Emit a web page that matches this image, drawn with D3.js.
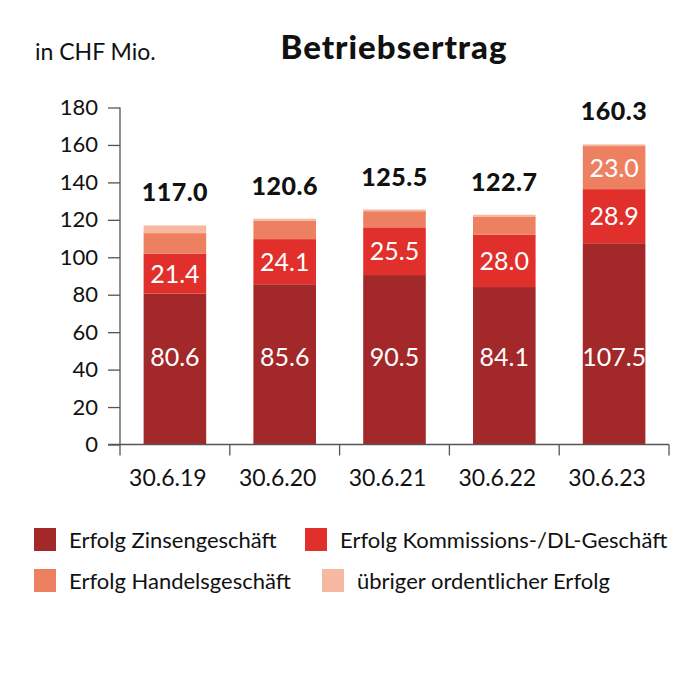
<!DOCTYPE html>
<html><head><meta charset="utf-8">
<script src="https://cdn.jsdelivr.net/npm/d3@7"></script>
<style>
body{margin:0;background:#fff;}
svg text{font-family:Lato,"Open Sans",sans-serif;}
</style></head>
<body><svg id="chart" width="700" height="683"></svg>
<script>
const categories = ["30.6.19","30.6.20","30.6.21","30.6.22","30.6.23"];
const zinsen = [80.6, 85.6, 90.5, 84.1, 107.5];
const kommission = [21.4, 24.1, 25.5, 28.0, 28.9];
const handel = [10.9, 9.9, 8.6, 9.7, 23.0];
const uebriger = [4.1, 1.0, 0.9, 0.9, 0.9];
const totals = [117.0, 120.6, 125.5, 122.7, 160.3];
const yTicks = [0,20,40,60,80,100,120,140,160,180];
const seriesNames = ["Erfolg Zinsengeschäft","Erfolg Kommissions-/DL-Geschäft","Erfolg Handelsgeschäft","übriger ordentlicher Erfolg"];
const colors = ["#a3282a","#e1302b","#ee8062","#f6b8a0"];
const showLabel = [[true,true,true,true,true],[true,true,true,true,true],[false,false,false,false,true],[false,false,false,false,false]];
const zinsLabelLevel = 47; // value level where the Zinsengeschäft labels sit

const svg = d3.select("#chart");
const x = d3.scaleBand().domain(categories).range([120, 669]).paddingInner(0.43).paddingOuter(0.215);
const y = d3.scaleLinear().domain([0,180]).range([444.5,107.5]);

const seriesData = [zinsen, kommission, handel, uebriger];
const rows = categories.map((c,i)=>{const o={cat:c}; seriesData.forEach((s,k)=>o["s"+k]=s[i]); return o;});
const stack = d3.stack().keys(["s0","s1","s2","s3"])(rows);

stack.forEach((layer,k)=>{
  svg.append("g").selectAll("rect").data(layer).join("rect")
    .attr("x", d=>x(d.data.cat)).attr("width", x.bandwidth())
    .attr("y", d=>y(d[1])).attr("height", d=>y(d[0])-y(d[1]))
    .attr("fill", colors[k]);
});
stack.forEach((layer,k)=>{
  svg.append("g").selectAll("text").data(layer.filter((d,i)=>showLabel[k][i])).join("text")
    .attr("x", d=>x(d.data.cat)+x.bandwidth()/2)
    .attr("y", d=> k===0 ? y(zinsLabelLevel) : (y(d[0])+y(d[1]))/2)
    .attr("dy","0.36em").attr("text-anchor","middle")
    .attr("fill","#fff").attr("font-size",25)
    .text(d=>(d[1]-d[0]).toFixed(1));
});

// totals
svg.append("g").selectAll("text").data(categories).join("text")
  .attr("x", c=>x(c)+x.bandwidth()/2)
  .attr("y", (c,i)=>y(totals[i])-24)
  .attr("text-anchor","middle").attr("font-size",25).attr("font-weight",900).attr("letter-spacing",0.5).attr("fill","#111")
  .text((c,i)=>totals[i].toFixed(1));

// y axis
const yAxis = d3.axisLeft(y).tickValues(yTicks).tickSize(12).tickPadding(10).tickFormat(d3.format("d"));
const gy = svg.append("g").attr("transform","translate(120,0)").call(yAxis);
gy.select(".domain").remove();
gy.append("line").attr("x1",0).attr("x2",0).attr("y1",y(180)).attr("y2",y(0)).attr("stroke","#555").attr("stroke-width",1.3);
gy.selectAll(".tick line").attr("stroke","#555").attr("stroke-width",1.3);
gy.selectAll(".tick text").attr("font-size",22).attr("fill","#111").attr("font-family","Lato");

// x axis
const gx = svg.append("g").attr("transform",`translate(0,${y(0)})`);
gx.append("line").attr("x1",108).attr("x2",669).attr("y1",0).attr("y2",0).attr("stroke","#555").attr("stroke-width",1.3);
const bounds = categories.map(c=>x(c)-x.step()*x.paddingInner()/2).slice(1).concat([669, 120]);
gx.selectAll("line.bt").data(bounds).join("line").attr("class","bt")
  .attr("x1",d=>d).attr("x2",d=>d).attr("y1",0).attr("y2",11).attr("stroke","#555").attr("stroke-width",1.3);
gx.selectAll("text").data(categories).join("text")
  .attr("x", c=>x(c)+x.bandwidth()/2-7).attr("y",41)
  .attr("text-anchor","middle").attr("font-size",23).attr("fill","#111").text(c=>c);

// titles
svg.append("text").attr("x",35).attr("y",60).attr("font-size",23).attr("fill","#111").text("in CHF Mio.");
svg.append("text").attr("x",394).attr("y",59).attr("text-anchor","middle").attr("font-size",33).attr("font-weight",900).attr("letter-spacing",1).attr("fill","#111").text("Betriebsertrag");

// legend
const legPos = [[34,528],[305,528],[34,569],[322,569]];
seriesNames.forEach((n,k)=>{
  const g = svg.append("g").attr("transform",`translate(${legPos[k][0]},${legPos[k][1]})`);
  g.append("rect").attr("width",22).attr("height",23).attr("fill",colors[k]);
  g.append("text").attr("x",35).attr("y",12).attr("dy","0.36em").attr("font-size",22).attr("fill","#111").text(n);
});
</script></body></html>
